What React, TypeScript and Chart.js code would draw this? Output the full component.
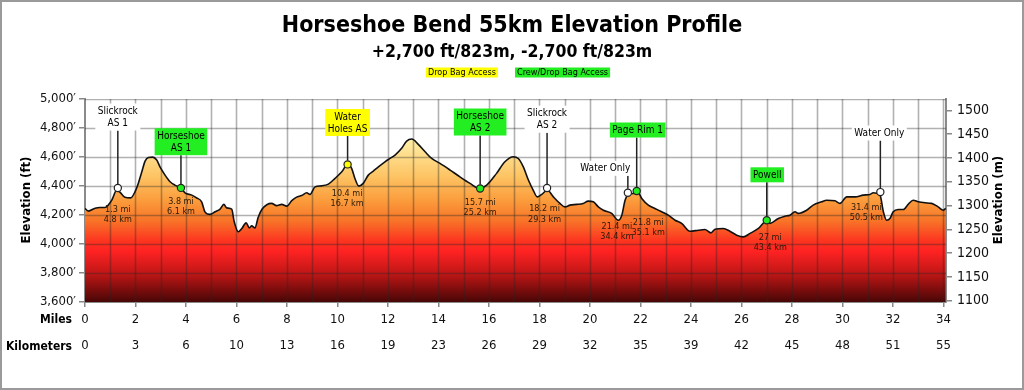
import React, { useEffect, useRef } from 'react';
import { Chart, registerables } from 'chart.js';

Chart.register(...registerables);

const FONT = '"DejaVu Sans Condensed", "DejaVu Sans", sans-serif';

// ---------- data ----------
const profileMiles = [
  0, 0.13, 0.40, 0.59, 0.79, 0.92, 1.06, 1.26, 1.39, 1.58,
  1.81, 1.98, 2.11, 2.25, 2.38, 2.51, 2.68, 2.84, 2.97, 3.17,
  3.37, 3.56, 3.80, 3.96, 4.23, 4.42, 4.62, 4.75, 4.95, 5.15,
  5.35, 5.50, 5.61, 5.81, 5.91, 6.07, 6.21, 6.38, 6.51, 6.60,
  6.73, 6.86, 7.01, 7.20, 7.39, 7.59, 7.79, 7.99, 8.19, 8.38,
  8.58, 8.78, 8.91, 9.11, 9.37, 9.64, 9.90, 10.17, 10.40, 10.56,
  10.69, 10.85, 11.02, 11.22, 11.42, 11.62, 11.88, 12.08, 12.28, 12.54,
  12.74, 12.94, 13.20, 13.47, 13.73, 14.06, 14.46, 14.85, 15.25, 15.62,
  15.91, 16.30, 16.63, 16.96, 17.16, 17.36, 17.56, 17.75, 17.91, 18.09,
  18.31, 18.55, 18.81, 19.01, 19.21, 19.47, 19.73, 19.93, 20.13, 20.33,
  20.53, 20.86, 21.12, 21.26, 21.39, 21.52, 21.78, 21.91, 22.05, 22.31,
  22.57, 22.84, 23.10, 23.37, 23.63, 23.96, 24.29, 24.55, 24.79, 24.95,
  25.28, 25.54, 25.81, 26.07, 26.34, 26.67, 27.02, 27.13, 27.46, 27.72,
  27.92, 28.12, 28.25, 28.58, 28.84, 29.18, 29.37, 29.70, 29.90, 30.17,
  30.50, 30.82, 31.09, 31.22, 31.37, 31.49, 31.62, 31.75, 31.88, 32.01,
  32.21, 32.41, 32.61, 32.80, 33.00, 33.27, 33.53, 33.79, 33.99, 34.09,
];
const profileFeet = [
  4245, 4227, 4247, 4252, 4252, 4268, 4302, 4372, 4356, 4323,
  4318, 4360, 4418, 4498, 4572, 4597, 4599, 4579, 4532, 4475,
  4429, 4406, 4387, 4353, 4337, 4318, 4291, 4222, 4204, 4222,
  4240, 4273, 4249, 4240, 4153, 4084, 4107, 4146, 4111, 4125,
  4111, 4185, 4240, 4271, 4280, 4265, 4273, 4261, 4299, 4323,
  4334, 4353, 4342, 4394, 4401, 4413, 4452, 4498, 4549, 4521,
  4452, 4399, 4418, 4475, 4503, 4532, 4567, 4590, 4613, 4660,
  4710, 4724, 4687, 4636, 4590, 4556, 4510, 4463, 4418, 4383,
  4406, 4487, 4567, 4602, 4590, 4532, 4441, 4372, 4325, 4342,
  4372, 4325, 4280, 4256, 4268, 4273, 4280, 4296, 4291, 4256,
  4233, 4211, 4164, 4199, 4302, 4342, 4349, 4353, 4314, 4268,
  4245, 4222, 4199, 4164, 4142, 4088, 4095, 4100, 4077, 4102,
  4107, 4088, 4061, 4049, 4073, 4107, 4164, 4142, 4176, 4192,
  4199, 4222, 4211, 4233, 4268, 4291, 4302, 4298, 4280, 4325,
  4325, 4337, 4342, 4353, 4349, 4337, 4222, 4164, 4176, 4222,
  4238, 4238, 4275, 4302, 4291, 4284, 4280, 4256, 4233, 4245,
];

const stationNames = ['Slickrock\nAS 1', 'Horseshoe\nAS 1', 'Water\nHoles AS', 'Horseshoe\nAS 2', 'Slickrock\nAS 2', 'Water Only', 'Page Rim 1', 'Powell', 'Water Only'];
const stationMiles = [1.3, 3.8, 10.4, 15.65, 18.3, 21.5, 21.85, 27.0, 31.5];
const stationFeet = [4386, 4387, 4549, 4383, 4386, 4353, 4365, 4164, 4358];
const stationAccess = ['none', 'crew', 'drop', 'crew', 'none', 'none', 'crew', 'crew', 'none'];
const stationMileText = ['1.3 mi', '3.8 mi', '10.4 mi', '15.7 mi', '18.2 mi', '21.4 mi', '21.8 mi', '27 mi', '31.4 mi'];
const stationKmText = ['4.8 km', '6.1 km', '16.7 km', '25.2 km', '29.3 km', '34.4 km', '35.1 km', '43.4 km', '50.5 km'];

const kmTickLabels = ['0', '3', '6', '10', '13', '16', '19', '23', '26', '29', '32', '35', '39', '42', '45', '48', '51', '55'];
const meterTicks = [1100, 1150, 1200, 1250, 1300, 1350, 1400, 1450, 1500];

const titleText = 'Horseshoe Bend 55km Elevation Profile';
const subtitleText = '+2,700 ft/823m, -2,700 ft/823m';
const legendItems = ['Drop Bag Access', 'Crew/Drop Bag Access'];

// ---------- layout (pixels, separate from data) ----------
const labelBoxY = [117, 141.7, 122.5, 122, 119.2, 168.3, 130, 174.8, 133];
const labelBoxDx = [0, 0, 0, 0, 0, -22.5, 1, 0.5, -1];
const noteDx = [0, 0, -0.5, 0, -2.5, -11, 11.5, 3.5, -14];
const noteY = [209.3, 201.5, 193.3, 202.5, 209, 226.7, 222.3, 237.3, 207.3];

const GREEN = '#22ee22';
const YELLOW = '#ffff00';
const FT_PER_M = 3.28084;

const colorFor = (a: string) => (a === 'crew' ? GREEN : a === 'drop' ? YELLOW : '#ffffff');

const overlayPlugin = {
  id: 'overlay',
  beforeDraw(chart: any) {
    const c = chart.ctx;
    c.save();
    c.fillStyle = '#ffffff';
    c.fillRect(0, 0, chart.width, chart.height);
    c.restore();
  },
  beforeDatasetDraw(chart: any, args: any) {
    if (args.index !== 1) return;
    const c = chart.ctx;
    const a = chart.chartArea;
    const xs = chart.scales.x;
    const ys = chart.scales.y;
    c.save();
    c.beginPath();
    c.rect(a.left, a.top, a.right - a.left, a.bottom - a.top);
    c.clip();
    c.strokeStyle = 'rgba(40,40,40,0.36)';
    c.lineWidth = 1.6;
    for (let m = 1; m <= 34; m++) {
      const px = Math.round(xs.getPixelForValue(m)) + 0.5;
      c.beginPath();
      c.moveTo(px, a.top);
      c.lineTo(px, a.bottom);
      c.stroke();
    }
    for (let f = 3800; f <= 5000; f += 200) {
      const py = Math.round(ys.getPixelForValue(f)) + 0.5;
      c.beginPath();
      c.moveTo(a.left, py);
      c.lineTo(a.right, py);
      c.stroke();
    }
    c.restore();
  },
  afterDatasetsDraw(chart: any) {
    const c = chart.ctx;
    const xs = chart.scales.x;
    const ys = chart.scales.y;
    c.save();
    c.textAlign = 'center';
    c.textBaseline = 'middle';
    for (let i = 0; i < stationNames.length; i++) {
      const px = xs.getPixelForValue(stationMiles[i]);
      const py = ys.getPixelForValue(stationFeet[i]);
      const lines = stationNames[i].split('\n');
      c.font = `10px ${FONT}`;
      const w = Math.max(...lines.map((l) => c.measureText(l).width)) + 5;
      const h = lines.length * 12 + 3;
      const bx = px + labelBoxDx[i];
      const by = labelBoxY[i];
      c.strokeStyle = '#222';
      c.lineWidth = 1.5;
      c.beginPath();
      c.moveTo(px, by + h / 2);
      c.lineTo(px, py - 4);
      c.stroke();
      c.fillStyle = colorFor(stationAccess[i]);
      c.fillRect(bx - w / 2, by - h / 2, w, h);
      c.fillStyle = '#000';
      lines.forEach((l, k) => {
        c.fillText(l, bx, by - ((lines.length - 1) * 12) / 2 + k * 12 + 0.5);
      });
      c.font = `9px ${FONT}`;
      c.fillStyle = '#2a1a08';
      c.fillText(stationMileText[i], px + noteDx[i], noteY[i]);
      c.fillText(stationKmText[i], px + noteDx[i], noteY[i] + 10.3);
    }
    c.restore();
  },
  afterDraw(chart: any) {
    const c = chart.ctx;
    c.save();
    c.fillStyle = '#000';
    c.textAlign = 'center';
    c.textBaseline = 'middle';
    c.font = `bold 23px ${FONT}`;
    c.fillText(titleText, 512, 26);
    c.font = `bold 17.5px ${FONT}`;
    c.fillText(subtitleText, 512, 52);
    c.font = `9px ${FONT}`;
    const legendLeft = [426, 515];
    legendItems.forEach((t, i) => {
      const w = c.measureText(t).width + 4;
      c.fillStyle = i === 0 ? YELLOW : GREEN;
      c.fillRect(legendLeft[i], 67.5, w, 10);
      c.fillStyle = '#000';
      c.fillText(t, legendLeft[i] + w / 2, 72.8);
    });
    c.font = `bold 13px ${FONT}`;
    c.save();
    c.translate(27, 200);
    c.rotate(-Math.PI / 2);
    c.fillText('Elevation (ft)', 0, 0);
    c.restore();
    c.save();
    c.translate(999, 200);
    c.rotate(-Math.PI / 2);
    c.fillText('Elevation (m)', 0, 0);
    c.restore();
    c.textAlign = 'right';
    c.font = `bold 12px ${FONT}`;
    c.fillText('Miles', 72, 319.5);
    c.fillText('Kilometers', 72, 346.5);
    c.strokeStyle = '#9a9a9a';
    c.lineWidth = 2;
    c.strokeRect(1, 1, chart.width - 2, chart.height - 2);
    c.restore();
  },
};

export default function App() {
  const ref = useRef<HTMLCanvasElement>(null);
  useEffect(() => {
    document.body.style.margin = '0';
    const canvas = ref.current!;
    const tickFont = { family: FONT, size: 13 };
    const chart = new Chart(canvas, {
      type: 'line',
      data: {
        datasets: [
          {
            label: 'Aid stations',
            data: stationMiles.map((m, i) => ({ x: m, y: stationFeet[i] })),
            showLine: false,
            pointRadius: 3.6,
            pointBorderWidth: 1.2,
            pointBorderColor: '#222',
            pointBackgroundColor: stationAccess.map(colorFor),
            order: 0,
          } as any,
          {
            label: 'Elevation',
            data: profileMiles.map((m, i) => ({ x: m, y: profileFeet[i] })),
            borderColor: '#111',
            borderWidth: 1.6,
            pointRadius: 0,
            cubicInterpolationMode: 'monotone',
            fill: 'start',
            backgroundColor: (ctx: any) => {
              const ch = ctx.chart;
              const a = ch.chartArea;
              if (!a) return 'rgba(0,0,0,0)';
              const g = ch.ctx.createLinearGradient(0, a.top, 0, a.bottom);
              g.addColorStop(0.0, '#fff8cc');
              g.addColorStop(0.22, '#ffeaa0');
              g.addColorStop(0.38, '#fdc464');
              g.addColorStop(0.5, '#fb9c3c');
              g.addColorStop(0.6, '#f87428');
              g.addColorStop(0.7, '#fd3420');
              g.addColorStop(0.75, '#ff2222');
              g.addColorStop(0.86, '#c01616');
              g.addColorStop(1.0, '#480606');
              return g;
            },
            order: 1,
          } as any,
        ],
      },
      options: {
        animation: false,
        responsive: false,
        devicePixelRatio: 1,
        events: [],
        layout: { padding: { top: 99, left: 0, right: 0, bottom: 28 } },
        plugins: { legend: { display: false }, tooltip: { enabled: false }, title: { display: false } },
        scales: {
          x: {
            type: 'linear',
            position: 'bottom',
            min: 0,
            max: 34.1,
            bounds: 'data',
            weight: 0,
            ticks: {
              stepSize: 2,
              includeBounds: false,
              autoSkip: false,
              maxRotation: 0,
              font: tickFont,
              color: '#111',
              padding: 4.5,
              callback: (v: any) => String(v),
            },
            grid: { drawOnChartArea: false, drawTicks: true, tickLength: 5, color: '#888', lineWidth: 1.5 },
            border: { color: '#8a8a8a', width: 2 },
            afterFit: (s: any) => { s.height = 30; },
          },
          x2: {
            type: 'linear',
            position: 'bottom',
            min: 0,
            max: 34.1,
            bounds: 'data',
            weight: 1,
            ticks: {
              stepSize: 2,
              includeBounds: false,
              autoSkip: false,
              maxRotation: 0,
              font: tickFont,
              color: '#111',
              padding: 6,
              callback: (_v: any, i: number) => kmTickLabels[i],
            },
            grid: { display: false, drawTicks: false },
            border: { display: false },
            afterFit: (s: any) => { s.height = 30; },
          },
          y: {
            type: 'linear',
            position: 'left',
            min: 3600,
            max: 5000,
            ticks: {
              stepSize: 200,
              font: tickFont,
              color: '#111',
              padding: 3,
              callback: (v: any) => Number(v).toLocaleString('en-US') + '′',
            },
            grid: { drawOnChartArea: false, drawTicks: true, tickLength: 6, color: '#888', lineWidth: 1.5 },
            border: { color: '#8a8a8a', width: 2 },
            afterFit: (s: any) => { s.width = 85; },
          },
          y2: {
            type: 'linear',
            position: 'right',
            min: 3600 / FT_PER_M,
            max: 5000 / FT_PER_M,
            bounds: 'data',
            afterBuildTicks: (s: any) => {
              s.ticks = meterTicks.map((v) => ({ value: v }));
            },
            ticks: {
              autoSkip: false,
              font: { family: FONT, size: 14 },
              color: '#111',
              padding: 5,
              callback: (v: any) => String(v),
            },
            grid: { drawOnChartArea: false, drawTicks: true, tickLength: 6, color: '#888', lineWidth: 1.5 },
            border: { color: '#8a8a8a', width: 2 },
            afterFit: (s: any) => { s.width = 78; },
          },
        },
      } as any,
      plugins: [overlayPlugin],
    });
    return () => chart.destroy();
  }, []);
  return (
    <div style={{ position: 'fixed', left: 0, top: 0, width: 1024, height: 390, background: '#fff' }}>
      <canvas ref={ref} width={1024} height={390} style={{ display: 'block', width: 1024, height: 390 }} />
    </div>
  );
}
